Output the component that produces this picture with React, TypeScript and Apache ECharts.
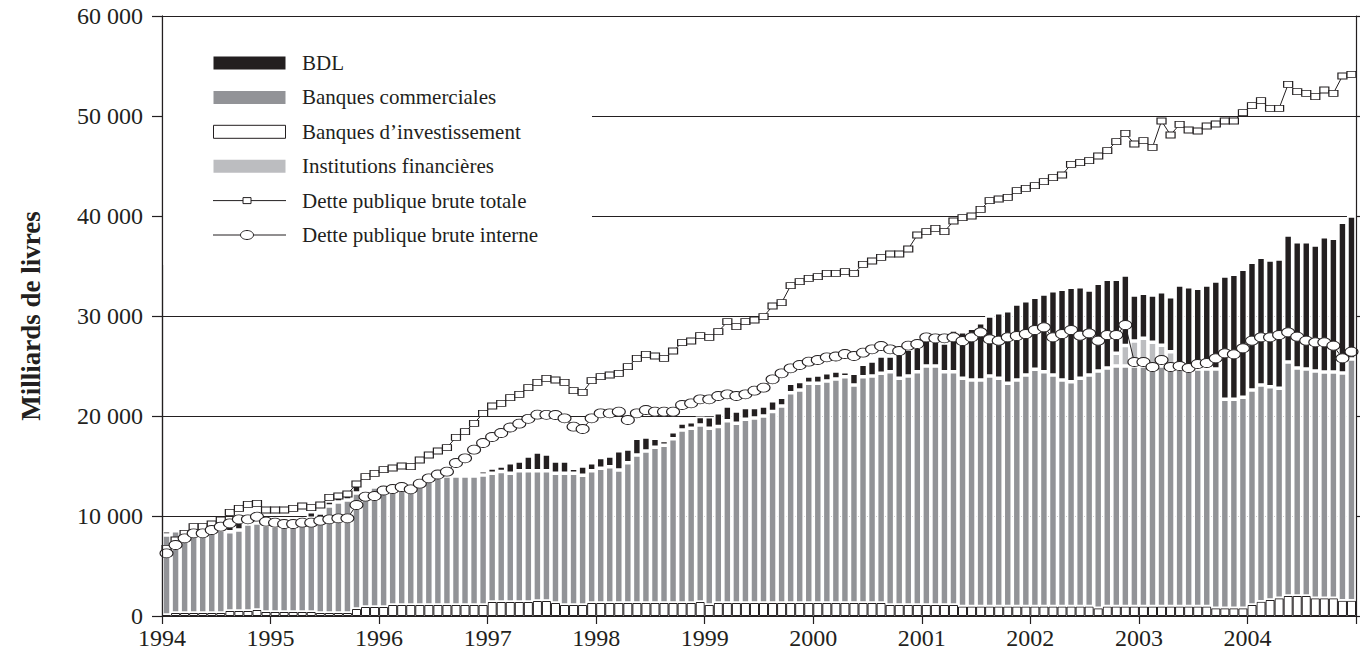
import React, { useEffect, useRef } from "react";
import * as echarts from "echarts";

const years = [1994, 1995, 1996, 1997, 1998, 1999, 2000, 2001, 2002, 2003, 2004];
const months = years.flatMap((y) =>
  Array.from({ length: 12 }, (_, m) => `${y}-${String(m + 1).padStart(2, "0")}`)
);
const yTicks = [0, 10000, 20000, 30000, 40000, 50000, 60000];

// Dette publique brute totale (milliards de livres)
const totalDebt = [
  6770, 7600, 8270, 8930, 8930, 9200, 9600, 10370, 10770, 11170, 11270, 10600,
  10600, 10600, 10770, 11000, 10830, 11100, 11870, 12000, 12200, 13200, 13930, 14270,
  14630, 14800, 15000, 14930, 15600, 16100, 16500, 16830, 17870, 18430, 19270, 20270,
  21000, 21270, 21830, 22170, 22830, 23370, 23770, 23600, 23370, 22530, 22370, 23530,
  23930, 24100, 24270, 24930, 25770, 26170, 26000, 25770, 26500, 27330, 27500, 28030,
  27870, 28430, 29430, 28930, 29430, 29600, 29930, 31000, 31330, 33030, 33430, 33770,
  33930, 34270, 34270, 34430, 34270, 35170, 35500, 35870, 36200, 36200, 36700, 38100,
  38430, 38770, 38430, 39500, 39830, 40000, 40670, 41530, 41700, 41870, 42530, 42770,
  43030, 43430, 43830, 44100, 45170, 45330, 45530, 46000, 46530, 47430, 48270, 47200,
  47530, 46870, 49500, 48100, 49170, 48600, 48500, 49000, 49200, 49500, 49500, 50330,
  51030, 51530, 50770, 50770, 53170, 52430, 52270, 51930, 52600, 52270, 54000, 54170,
];

// Dette publique brute interne
const domesticDebt = [
  6270, 7100, 7770, 8270, 8270, 8600, 8930, 9270, 9670, 9670, 9930, 9430,
  9330, 9200, 9200, 9330, 9330, 9530, 9670, 9770, 9770, 11100, 11930, 12000,
  12550, 12700, 12900, 12670, 13230, 13770, 14150, 14430, 15300, 15770, 16630, 17300,
  17900, 18300, 18850, 19230, 19720, 20130, 20120, 20100, 19770, 18930, 18700, 19770,
  20270, 20270, 20430, 19600, 20270, 20600, 20430, 20430, 20430, 21100, 21270, 21670,
  21670, 22000, 22170, 22000, 22170, 22530, 22830, 23670, 24270, 24770, 25100, 25430,
  25600, 25870, 25950, 26200, 26000, 26330, 26670, 27000, 26670, 26500, 27030, 27200,
  27870, 27770, 27770, 27870, 27500, 27870, 28370, 27670, 27530, 27870, 28000, 28200,
  28600, 28870, 27870, 28200, 28600, 28030, 28270, 27530, 28100, 28100, 29100, 25400,
  25400, 24900, 25600, 24900, 25000, 24800, 25200, 25300, 25770, 26270, 26170, 26770,
  27530, 27870, 27870, 28100, 28370, 27930, 27530, 27370, 27370, 27030, 25770, 26430,
];

// Banques d'investissement
const investmentBanks = [
  100, 300, 300, 300, 300, 300, 300, 500, 500, 500, 600, 400,
  400, 400, 400, 400, 400, 300, 300, 300, 300, 700, 900, 900,
  900, 1100, 1100, 1100, 1100, 1100, 1100, 1100, 1100, 1100, 1100, 1100,
  1400, 1400, 1400, 1400, 1400, 1500, 1500, 1300, 1100, 1100, 1100, 1300,
  1300, 1300, 1300, 1300, 1300, 1300, 1300, 1300, 1300, 1300, 1300, 1400,
  1100, 1300, 1300, 1300, 1300, 1300, 1300, 1300, 1300, 1300, 1300, 1300,
  1300, 1300, 1300, 1300, 1300, 1300, 1300, 1300, 1100, 1100, 1100, 1100,
  1100, 1100, 1100, 1100, 950, 950, 950, 950, 950, 950, 950, 950,
  950, 950, 950, 950, 950, 950, 950, 770, 950, 950, 950, 950,
  950, 950, 950, 950, 950, 950, 950, 950, 770, 770, 770, 770,
  1100, 1430, 1600, 1770, 2000, 2000, 2000, 1770, 1770, 1770, 1530, 1530,
];

// Banques commerciales
const commercialBanks = [
  8000, 8230, 8300, 8400, 8400, 8400, 8300, 7930, 8100, 8700, 8700, 8700,
  8600, 8600, 8600, 8700, 9370, 9500, 10700, 11100, 11300, 11600, 11600, 12000,
  12000, 11900, 12000, 12200, 12300, 12700, 12800, 12900, 12900, 12900, 12900, 13000,
  12870, 13050, 12870, 13130, 13130, 13030, 13030, 12970, 13170, 13170, 12970, 13230,
  13470, 13630, 13300, 14030, 14800, 15200, 15570, 15770, 16430, 17300, 17470, 17700,
  17670, 17650, 18230, 17970, 18370, 18500, 18700, 19150, 19700, 21030, 21300, 21970,
  21970, 22200, 22400, 22630, 21800, 22630, 22700, 22970, 23330, 22670, 22900, 23330,
  23900, 23900, 23330, 23330, 22820, 22650, 22650, 23050, 22820, 22320, 22650, 23150,
  23720, 23480, 23150, 22650, 22480, 22820, 23150, 23730, 23850, 24050, 24050, 24050,
  24050, 24050, 24050, 24050, 23750, 23750, 23750, 23750, 23930, 20900, 20900, 21100,
  21500, 21670, 21330, 21000, 23400, 22800, 22700, 22730, 22630, 22630, 22770, 24170,
];

// Institutions financières
const financialInstitutions = [
  0, 0, 0, 0, 0, 0, 0, 0, 0, 0, 0, 0,
  0, 0, 0, 0, 0, 0, 0, 0, 0, 0, 0, 0,
  0, 0, 0, 0, 0, 0, 0, 0, 0, 0, 0, 0,
  0, 0, 0, 0, 0, 0, 0, 0, 0, 0, 0, 0,
  0, 0, 0, 0, 0, 0, 0, 0, 0, 0, 0, 0,
  0, 0, 0, 0, 0, 0, 0, 0, 0, 0, 0, 0,
  0, 0, 0, 0, 0, 0, 0, 0, 0, 0, 0, 0,
  0, 0, 0, 0, 0, 0, 0, 0, 0, 0, 0, 0,
  0, 0, 0, 0, 0, 0, 0, 0, 0, 1270, 2050, 2500,
  2770, 2370, 2070, 1430, 0, 0, 0, 0, 0, 0, 0, 0,
  0, 0, 0, 0, 0, 0, 0, 0, 0, 0, 0, 0,
];

// BDL
const bdl = [
  430, 340, 330, 200, 200, 300, 400, 600, 770, 100, 0, 0,
  0, 0, 0, 200, 660, 500, 500, 1000, 1000, 1000, 100, 100,
  0, 0, 0, 200, 200, 0, 0, 0, 0, 0, 200, 430,
  530, 550, 1060, 970, 1470, 1870, 1670, 1230, 1230, 500, 930, 800,
  1080, 1070, 1930, 1370, 1670, 1400, 900, 480, 700, 700, 660, 850,
  1160, 1380, 1470, 1230, 1180, 1050, 1000, 1080, 870, 940, 850, 730,
  830, 830, 800, 500, 1170, 1240, 1500, 1730, 1570, 2560, 2670, 2470,
  2600, 2500, 2870, 4170, 4660, 5170, 5730, 6000, 6560, 7260, 7600, 7430,
  7200, 7770, 8430, 9070, 9440, 9160, 8500, 8770, 8870, 7400, 7050, 4600,
  4500, 4730, 5360, 5500, 8400, 8230, 8070, 8400, 8800, 12330, 12500, 12800,
  12770, 12770, 12670, 12930, 12700, 12630, 12730, 12600, 13530, 13370, 15070, 14300,
];

const INK = "#231f20";
const C_BDL = "#231f20";
const C_COM = "#929397";
const C_INST = "#bcbdc0";
const FONT = '"Liberation Serif", "Times New Roman", serif';
const ELLIPSE = "path://M0,4.5A6.5,4.5,0,1,1,13,4.5A6.5,4.5,0,1,1,0,4.5Z";

const fmt = (v: number) => String(v).replace(/\B(?=(\d{3})+(?!\d))/g, " ");

export default function App() {
  const ref = useRef<HTMLDivElement>(null);
  useEffect(() => {
    if (!ref.current) return;
    const chart = echarts.init(ref.current, null, { renderer: "svg" });
    const barBase = {
      type: "bar" as const,
      stack: "total",
      xAxisIndex: 0,
      yAxisIndex: 0,
      barCategoryGap: "0%",
      z: 2,
    };
    const legendRows = [
      { name: "BDL", kind: "rect", fill: C_BDL, stroke: null },
      { name: "Banques commerciales", kind: "rect", fill: C_COM, stroke: null },
      { name: "Banques d\u2019investissement", kind: "rect", fill: "#fff", stroke: INK },
      { name: "Institutions financi\u00e8res", kind: "rect", fill: C_INST, stroke: null },
      { name: "Dette publique brute totale", kind: "square", fill: "#fff", stroke: INK },
      { name: "Dette publique brute interne", kind: "ellipse", fill: "#fff", stroke: INK },
    ];
    const legendEls: any[] = [];
    legendRows.forEach((r, k) => {
      const cy = 63 + k * 34.4;
      if (r.kind === "rect") {
        legendEls.push({
          type: "rect",
          z: 20,
          shape: { x: 213.5, y: cy - 6.5, width: 72, height: 13 },
          style: { fill: r.fill, stroke: r.stroke || undefined, lineWidth: r.stroke ? 1 : 0 },
        });
      } else {
        legendEls.push({
          type: "line",
          z: 20,
          shape: { x1: 213, y1: cy, x2: 286, y2: cy },
          style: { stroke: INK, lineWidth: 1 },
        });
        if (r.kind === "square") {
          legendEls.push({
            type: "rect",
            z: 21,
            shape: { x: 243, y: cy - 3, width: 8, height: 6 },
            style: { fill: "#fff", stroke: INK, lineWidth: 1 },
          });
        } else {
          legendEls.push({
            type: "ellipse",
            z: 21,
            shape: { cx: 247, cy: cy, rx: 6.5, ry: 4.5 },
            style: { fill: "#fff", stroke: INK, lineWidth: 1 },
          });
        }
      }
      legendEls.push({
        type: "text",
        z: 20,
        x: 302,
        y: cy,
        style: {
          text: r.name,
          font: `21px ${FONT}`,
          fill: INK,
          align: "left",
          verticalAlign: "middle",
        },
      });
    });

    chart.setOption({
      animation: false,
      backgroundColor: "#fff",
      grid: { left: 162, right: 4, top: 16, bottom: 45, containLabel: false },
      xAxis: [
        {
          type: "category",
          data: months,
          show: false,
          boundaryGap: true,
        },
        {
          type: "value",
          min: 1994,
          max: 2005,
          interval: 1,
          position: "bottom",
          z: 10,
          axisLine: { show: true, lineStyle: { color: INK, width: 1.2 } },
          axisTick: { show: true, length: 8, inside: false, lineStyle: { color: INK, width: 1.2 } },
          axisLabel: {
            margin: 10,
            fontFamily: FONT,
            fontSize: 24,
            color: INK,
            formatter: (v: number) => (v === 2005 ? "" : String(v)),
          },
          splitLine: { show: false },
        },
      ],
      yAxis: [
        {
          type: "value",
          min: 0,
          max: 60000,
          interval: 10000,
          position: "left",
          axisLine: { show: true, lineStyle: { color: INK, width: 1.2 } },
          axisTick: { show: true, length: 10, inside: false, lineStyle: { color: INK, width: 1.2 } },
          axisLabel: {
            margin: 19,
            fontFamily: FONT,
            fontSize: 24,
            color: INK,
            formatter: (v: number) => fmt(v),
          },
          splitLine: { show: true, lineStyle: { color: INK, width: 1.2 } },
        },
        {
          type: "value",
          min: 0,
          max: 60000,
          interval: 10000,
          position: "right",
          z: 10,
          axisLine: { show: true, lineStyle: { color: INK, width: 1.2 } },
          axisTick: { show: true, length: 6, inside: false, lineStyle: { color: INK, width: 1.2 } },
          axisLabel: { show: false },
          splitLine: { show: false },
        },
        {
          type: "value",
          min: 0,
          max: 60000,
          interval: 10000,
          position: "left",
          z: 10,
          axisLine: { show: true, lineStyle: { color: INK, width: 1.2 } },
          axisTick: { show: false },
          axisLabel: { show: false },
          splitLine: { show: false },
        },
      ],
      graphic: [
        {
          type: "rect",
          z: 5,
          shape: { x: 163, y: 17, width: 429, height: 248 },
          style: { fill: "#fff", lineWidth: 0 },
        },
        ...legendEls,
        {
          type: "text",
          z: 20,
          x: 31,
          y: 316,
          rotation: Math.PI / 2,
          style: {
            text: "Milliards de livres",
            font: `bold 27px ${FONT}`,
            fill: INK,
            align: "center",
            verticalAlign: "middle",
          },
        },
      ],
      series: [
        {
          ...barBase,
          name: "Banques d\u2019investissement",
          data: investmentBanks,
          itemStyle: { color: "#fff", borderColor: INK, borderWidth: 1 },
        },
        {
          ...barBase,
          name: "Banques commerciales",
          data: commercialBanks,
          itemStyle: { color: C_COM, borderColor: "#fff", borderWidth: 1.8 },
        },
        {
          ...barBase,
          name: "Institutions financi\u00e8res",
          data: financialInstitutions,
          itemStyle: { color: C_INST, borderColor: "#fff", borderWidth: 1.8 },
        },
        {
          ...barBase,
          name: "BDL",
          data: bdl,
          itemStyle: { color: C_BDL, borderColor: "#fff", borderWidth: 1.8 },
        },
        {
          type: "line",
          name: "Dette publique brute totale",
          xAxisIndex: 0,
          yAxisIndex: 0,
          data: totalDebt,
          z: 3,
          showAllSymbol: true,
          symbol: "rect",
          symbolSize: [9, 6],
          lineStyle: { color: INK, width: 1 },
          itemStyle: { color: "#fff", borderColor: INK, borderWidth: 1 },
        },
        {
          type: "line",
          name: "Dette publique brute interne",
          xAxisIndex: 0,
          yAxisIndex: 0,
          data: domesticDebt,
          z: 4,
          showAllSymbol: true,
          symbol: ELLIPSE,
          symbolSize: [13, 9],
          lineStyle: { color: INK, width: 1 },
          itemStyle: { color: "#fff", borderColor: INK, borderWidth: 1 },
        },
      ],
    });
    return () => chart.dispose();
  }, []);
  return (
    <div
      ref={ref}
      style={{ position: "fixed", left: 0, top: 0, width: 1360, height: 661, background: "#fff" }}
    />
  );
}
